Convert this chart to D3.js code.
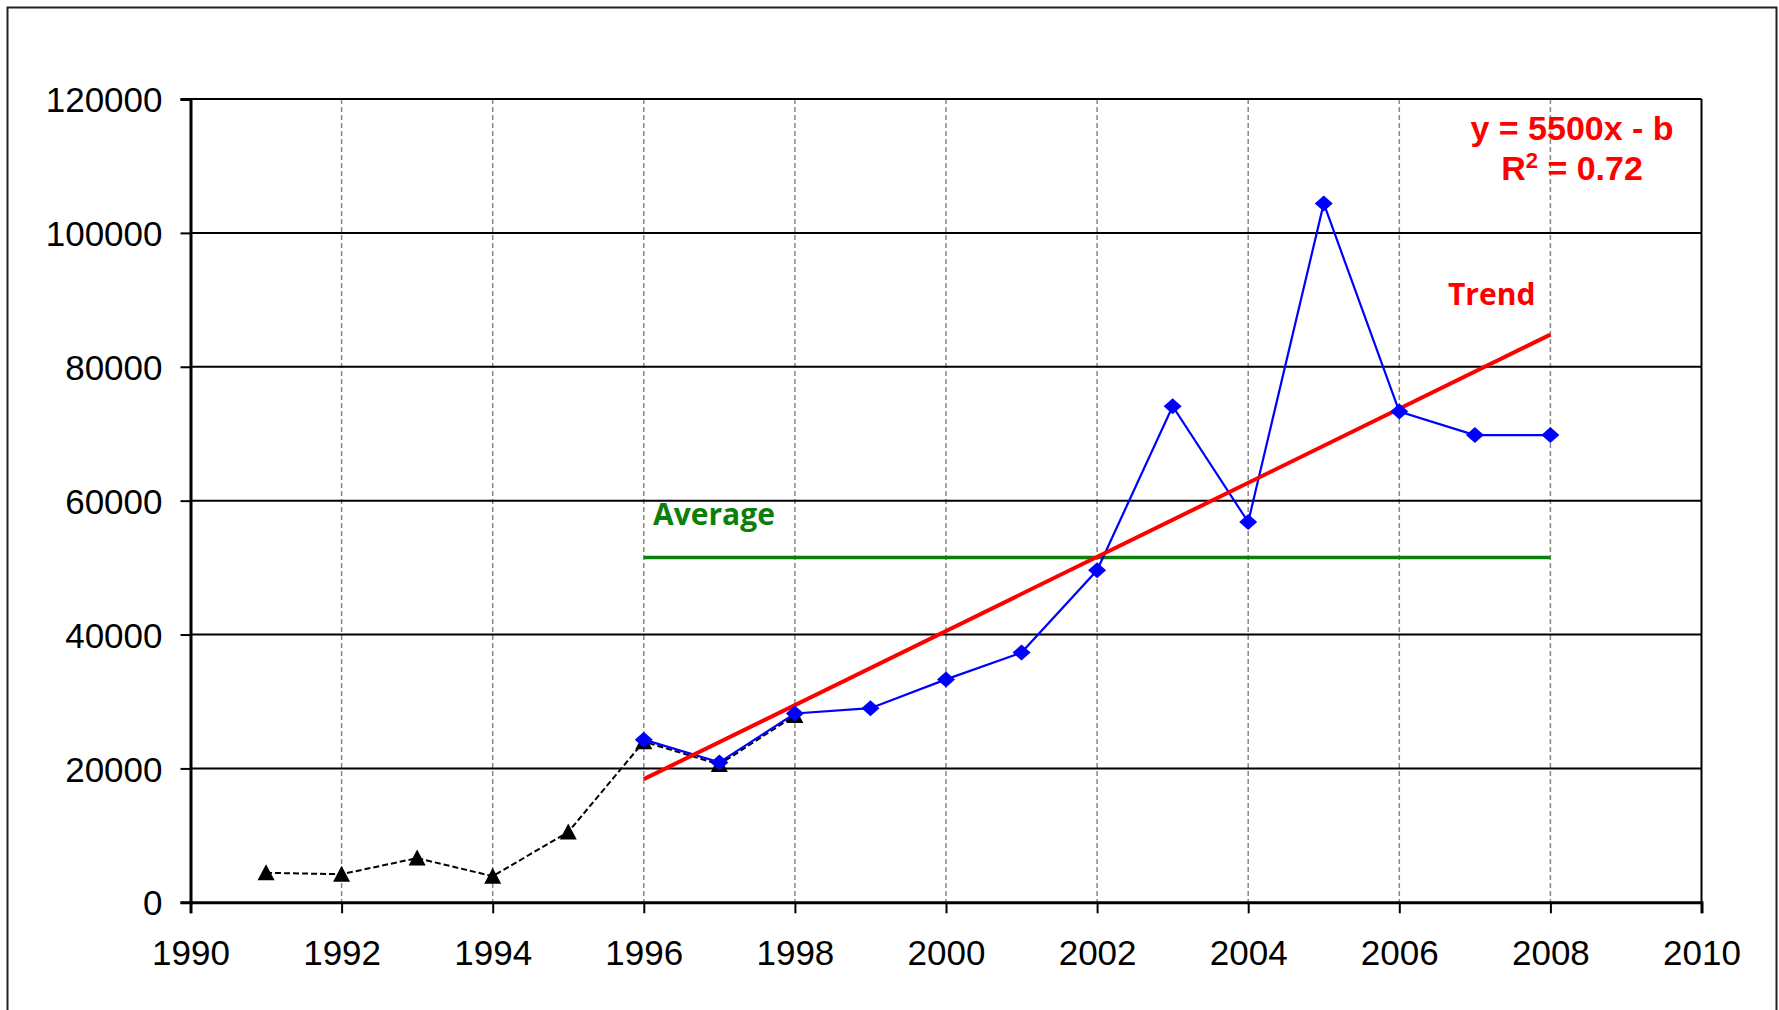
<!DOCTYPE html>
<html>
<head>
<meta charset="utf-8">
<script src="https://cdn.jsdelivr.net/npm/d3@7"></script>
<style>
  html, body { margin: 0; padding: 0; background: #fff; }
  svg { display: block; }
</style>
</head>
<body>
<svg id="chart" width="1779" height="1010"></svg>
<script>
// ---- data ----
const earlyYears  = [1991, 1992, 1993, 1994, 1995, 1996, 1997, 1998];
const earlyValues = [4400, 4200, 6600, 3900, 10500, 24000, 20600, 27900];

const mainYears  = [1996, 1997, 1998, 1999, 2000, 2001, 2002, 2003, 2004, 2005, 2006, 2007, 2008];
const mainValues = [24300, 20900, 28200, 29000, 33300, 37300, 49600, 74100, 56800, 104400, 73300, 69800, 69800];

const trendYears  = [1996, 2008];
const trendValues = [18400, 84800];

const averageYears = [1996, 2008];
const averageValue = 51500;

const xTicks = [1990, 1992, 1994, 1996, 1998, 2000, 2002, 2004, 2006, 2008, 2010];
const yTicks = [0, 20000, 40000, 60000, 80000, 100000, 120000];

const equationText = "y = 5500x - b";
const r2Main = "R";
const r2Sup = "2";
const r2Rest = " = 0.72";
const trendLabel = "Trend";
const averageLabel = "Average";

// ---- layout ----
const svg = d3.select("#chart");
const pLeft = 190.5, pRight = 1701.5, pTop = 99, pBottom = 902.3;

const x = d3.scaleLinear().domain([1990, 2010]).range([pLeft, pRight]);
const y = d3.scaleLinear().domain([0, 120000]).range([pBottom, pTop]);

// outer border
svg.append("rect")
  .attr("x", 7.5).attr("y", 7.5)
  .attr("width", 1769).attr("height", 1020)
  .attr("fill", "none").attr("stroke", "#222").attr("stroke-width", 2);

// vertical dashed gridlines
svg.append("g").selectAll("line")
  .data(xTicks.filter(d => d > 1990 && d < 2010))
  .join("line")
  .attr("x1", d => x(d)).attr("x2", d => x(d))
  .attr("y1", pTop).attr("y2", pBottom)
  .attr("stroke", "#888").attr("stroke-width", 1.5)
  .attr("stroke-dasharray", "5,3");

// horizontal gridlines
svg.append("g").selectAll("line")
  .data(yTicks.filter(d => d > 0))
  .join("line")
  .attr("x1", pLeft).attr("x2", pRight)
  .attr("y1", d => y(d)).attr("y2", d => y(d))
  .attr("stroke", "#000").attr("stroke-width", 2);

// right border of plot
svg.append("line")
  .attr("x1", pRight).attr("x2", pRight).attr("y1", pTop).attr("y2", pBottom)
  .attr("stroke", "#000").attr("stroke-width", 2);

// axes
const yAxis = d3.axisLeft(y).tickValues(yTicks).tickSize(10).tickPadding(18).tickFormat(d3.format("d"));
const gy = svg.append("g").attr("transform", `translate(${pLeft},0)`).call(yAxis);
gy.select(".domain").attr("stroke", "#000").attr("stroke-width", 3);
gy.selectAll(".tick line").attr("stroke", "#000").attr("stroke-width", 2);
gy.selectAll(".tick text")
  .attr("font-family", "'Liberation Sans', Arial, sans-serif")
  .attr("font-size", 35).attr("fill", "#000").attr("dy", "0.36em");

const xAxis = d3.axisBottom(x).tickValues(xTicks).tickSize(11).tickPadding(27).tickFormat(d3.format("d"));
const gx = svg.append("g").attr("transform", `translate(0,${pBottom})`).call(xAxis);
gx.select(".domain").attr("stroke", "#000").attr("stroke-width", 3);
gx.selectAll(".tick line").attr("stroke", "#000").attr("stroke-width", 2);
gx.selectAll(".tick text")
  .attr("font-family", "'Liberation Sans', Arial, sans-serif")
  .attr("font-size", 35).attr("fill", "#000");

// early series (black dashed, triangles)
const early = earlyYears.map((d, i) => ({ x: d, y: earlyValues[i] }));
const lineGen = d3.line().x(d => x(d.x)).y(d => y(d.y));
svg.append("path").datum(early)
  .attr("d", lineGen)
  .attr("fill", "none").attr("stroke", "#000").attr("stroke-width", 2)
  .attr("stroke-dasharray", "6,3");
svg.append("g").selectAll("path")
  .data(early).join("path")
  .attr("transform", d => `translate(${x(d.x)},${y(d.y)})`)
  .attr("d", "M0,-8.5L8.5,7.5L-8.5,7.5Z")
  .attr("fill", "#000");

// average line
svg.append("line")
  .attr("x1", x(averageYears[0])).attr("x2", x(averageYears[1]))
  .attr("y1", y(averageValue)).attr("y2", y(averageValue))
  .attr("stroke", "#0a800a").attr("stroke-width", 3.5);

// main series (blue, diamonds)
const main = mainYears.map((d, i) => ({ x: d, y: mainValues[i] }));
svg.append("path").datum(main)
  .attr("d", lineGen)
  .attr("fill", "none").attr("stroke", "#0000ff").attr("stroke-width", 2.2);

// trend line
const trend = trendYears.map((d, i) => ({ x: d, y: trendValues[i] }));
svg.append("path").datum(trend)
  .attr("d", lineGen)
  .attr("fill", "none").attr("stroke", "#ff0000").attr("stroke-width", 4);

svg.append("g").selectAll("path")
  .data(main).join("path")
  .attr("transform", d => `translate(${x(d.x)},${y(d.y)})`)
  .attr("d", "M0,-8L9,0L0,8L-9,0Z")
  .attr("fill", "#0000ff");

// labels
svg.append("text")
  .attr("x", 653).attr("y", 525)
  .attr("font-family", "'Open Sans', sans-serif").attr("font-weight", "bold")
  .attr("font-size", 30).attr("fill", "#0a800a")
  .text(averageLabel);

svg.append("text")
  .attr("x", 1448).attr("y", 305)
  .attr("font-family", "'Open Sans', sans-serif").attr("font-weight", "bold")
  .attr("font-size", 30).attr("fill", "#ff0000")
  .text(trendLabel);

svg.append("text")
  .attr("x", 1572).attr("y", 140).attr("text-anchor", "middle")
  .attr("font-family", "'Liberation Sans', Arial, sans-serif").attr("font-weight", "bold")
  .attr("font-size", 34).attr("fill", "#ff0000")
  .text(equationText);

const r2 = svg.append("text")
  .attr("x", 1572).attr("y", 180).attr("text-anchor", "middle")
  .attr("font-family", "'Liberation Sans', Arial, sans-serif").attr("font-weight", "bold")
  .attr("font-size", 34).attr("fill", "#ff0000");
r2.append("tspan").text(r2Main);
r2.append("tspan").attr("dy", -12).attr("font-size", 22).text(r2Sup);
r2.append("tspan").attr("dy", 12).text(r2Rest);
</script>
</body>
</html>
